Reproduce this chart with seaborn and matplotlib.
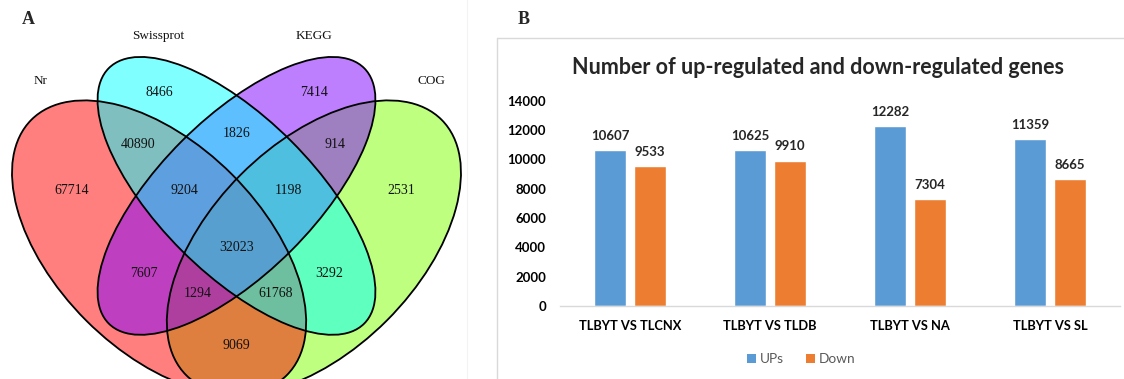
import matplotlib
matplotlib.use("Agg")
import matplotlib.pyplot as plt
from matplotlib.patches import Ellipse, Patch
from matplotlib.lines import Line2D
from matplotlib.colors import to_rgba
import pandas as pd
import seaborn as sns

sns.set_style("white")
plt.rcParams["font.family"] = ["Lato", "DejaVu Sans"]

# ---- Panel A: annotation overlap between four databases ----
set_names = ["Nr", "Swissprot", "KEGG", "COG"]
set_colors = ["#FF0000", "#00FFFF", "#7F00FF", "#7FFF00"]

region_keys = [
    "Nr", "Swissprot", "KEGG", "COG",
    "Nr&Swissprot", "Swissprot&KEGG", "KEGG&COG",
    "Nr&Swissprot&KEGG", "Swissprot&KEGG&COG", "Nr&Swissprot&KEGG&COG",
    "Nr&KEGG", "Swissprot&COG", "Nr&KEGG&COG", "Nr&Swissprot&COG", "Nr&COG",
]
region_counts = [
    67714, 8466, 7414, 2531,
    40890, 1826, 914,
    9204, 1198, 32023,
    7607, 3292, 1294, 61768, 9069,
]

# ---- Panel B: differentially expressed genes ----
comparisons = ["TLBYT VS TLCNX", "TLBYT VS TLDB", "TLBYT VS NA", "TLBYT VS SL"]
ups = [10607, 10625, 12282, 11359]
downs = [9533, 9910, 7304, 8665]
series_names = ["UPs", "Down"]
series_colors = ["#5B9BD5", "#ED7D31"]

# Four-ellipse Venn layout (unit square coordinates)
ellipse_geom = {
    "Nr":        dict(center=(0.35, 0.47), a=0.35, b=0.20, angle=135),
    "Swissprot": dict(center=(0.50, 0.57), a=0.35, b=0.15, angle=135),
    "KEGG":      dict(center=(0.50, 0.57), a=0.35, b=0.15, angle=45),
    "COG":       dict(center=(0.65, 0.47), a=0.35, b=0.20, angle=45),
}
fill_order = ["COG", "Nr", "KEGG", "Swissprot"]
region_pos = {
    "Nr": (0.18, 0.58), "Swissprot": (0.35, 0.77), "KEGG": (0.65, 0.77), "COG": (0.82, 0.58),
    "Nr&Swissprot": (0.31, 0.67), "Swissprot&KEGG": (0.50, 0.69), "KEGG&COG": (0.69, 0.67),
    "Nr&Swissprot&KEGG": (0.40, 0.58), "Swissprot&KEGG&COG": (0.60, 0.58),
    "Nr&Swissprot&KEGG&COG": (0.50, 0.47),
    "Nr&KEGG": (0.32, 0.42), "Swissprot&COG": (0.68, 0.42),
    "Nr&KEGG&COG": (0.425, 0.38), "Nr&Swissprot&COG": (0.575, 0.38),
    "Nr&COG": (0.50, 0.28),
}
set_label_pos = {
    "Nr": (0.121, 0.793), "Swissprot": (0.348, 0.880),
    "KEGG": (0.650, 0.880), "COG": (0.877, 0.793),
}

W, H = 1124, 379
fig = plt.figure(figsize=(W / 100, H / 100), dpi=100)
fig.patch.set_facecolor("white")

serif = "Liberation Serif"

ax_v = fig.add_axes([0, 0, 480 / W, 1])
ax_v.set_xlim(0.0417, 0.9719)
ax_v.set_ylim(0.2151, 0.9496)
ax_v.axis("off")

color_of = dict(zip(set_names, set_colors))
for name in fill_order:
    g = ellipse_geom[name]
    ax_v.add_patch(Ellipse(g["center"], 2 * g["a"], 2 * g["b"], angle=g["angle"],
                           facecolor=to_rgba(color_of[name], 0.5), edgecolor="none"))
for name in set_names:
    g = ellipse_geom[name]
    ax_v.add_patch(Ellipse(g["center"], 2 * g["a"], 2 * g["b"], angle=g["angle"],
                           facecolor="none", edgecolor="black", linewidth=1.3))

for key, cnt in zip(region_keys, region_counts):
    x, y = region_pos[key]
    ax_v.text(x, y, str(cnt), ha="center", va="center", fontsize=10,
              family=serif, color="#111111")
for name in set_names:
    x, y = set_label_pos[name]
    ax_v.text(x, y, name, ha="center", va="center", fontsize=9.5,
              family=serif, color="#111111")

fig.text(28 / W, 1 - 19 / H, "A", ha="center", va="center", fontsize=13,
         fontweight="bold", family=serif)
fig.add_artist(Line2D([467 / W, 467 / W], [0, 1], color="#F3F3F3", lw=0.8))

# ---- bar chart ----
df = pd.DataFrame({
    "comparison": comparisons * 2,
    "count": ups + downs,
    "direction": [series_names[0]] * len(ups) + [series_names[1]] * len(downs),
})

ax_b = fig.add_axes([560 / W, (379 - 306) / H, 560 / W, 205.3 / H])
sns.barplot(data=df, x="comparison", y="count", hue="direction",
            palette=series_colors, hue_order=series_names, order=comparisons,
            width=0.573, gap=0.21, saturation=1, legend=False, ax=ax_b)

ax_b.set_xlim(-0.5, 3.5)
ax_b.set_ylim(0, 14000)
ax_b.set_yticks(range(0, 14001, 2000))
ax_b.set_xlabel("")
ax_b.set_ylabel("")
for side in ["top", "right", "left"]:
    ax_b.spines[side].set_visible(False)
ax_b.spines["bottom"].set_color("#D9D9D9")
ax_b.spines["bottom"].set_linewidth(1.0)
ax_b.tick_params(axis="both", length=0)
ax_b.tick_params(axis="y", pad=10)
ax_b.tick_params(axis="x", pad=10)
ax_b.set_facecolor("none")
for lab in ax_b.get_yticklabels():
    lab.set_fontweight("bold")
    lab.set_fontsize(9.5)
    lab.set_color("black")
for lab in ax_b.get_xticklabels():
    lab.set_fontweight("bold")
    lab.set_fontsize(9.3)
    lab.set_color("black")

for cont in ax_b.containers:
    ax_b.bar_label(cont, fmt="%d", padding=6, fontsize=9.5, fontweight="bold")

fig.text(817.5 / W, 1 - 67 / H, "Number of up-regulated and down-regulated genes",
         ha="center", va="center", fontsize=15.5, fontweight="bold")
fig.text(524 / W, 1 - 19 / H, "B", ha="center", va="center", fontsize=13,
         fontweight="bold", family=serif)

handles = [Patch(facecolor=c, edgecolor="none") for c in series_colors]
fig.legend(handles, series_names, loc="center", bbox_to_anchor=(801.5 / W, 1 - 359 / H),
           ncol=2, frameon=False, handlelength=0.66, handleheight=0.66,
           handletextpad=0.3, columnspacing=1.6, fontsize=9.8, labelcolor="#595959")

# chart frame
top = 1 - 38 / H
fig.add_artist(Line2D([497 / W, 1], [top, top], color="#D9D9D9", lw=1.0))
fig.add_artist(Line2D([497 / W, 497 / W], [0, top], color="#D9D9D9", lw=1.0))

fig.savefig("out.png", dpi=100)
